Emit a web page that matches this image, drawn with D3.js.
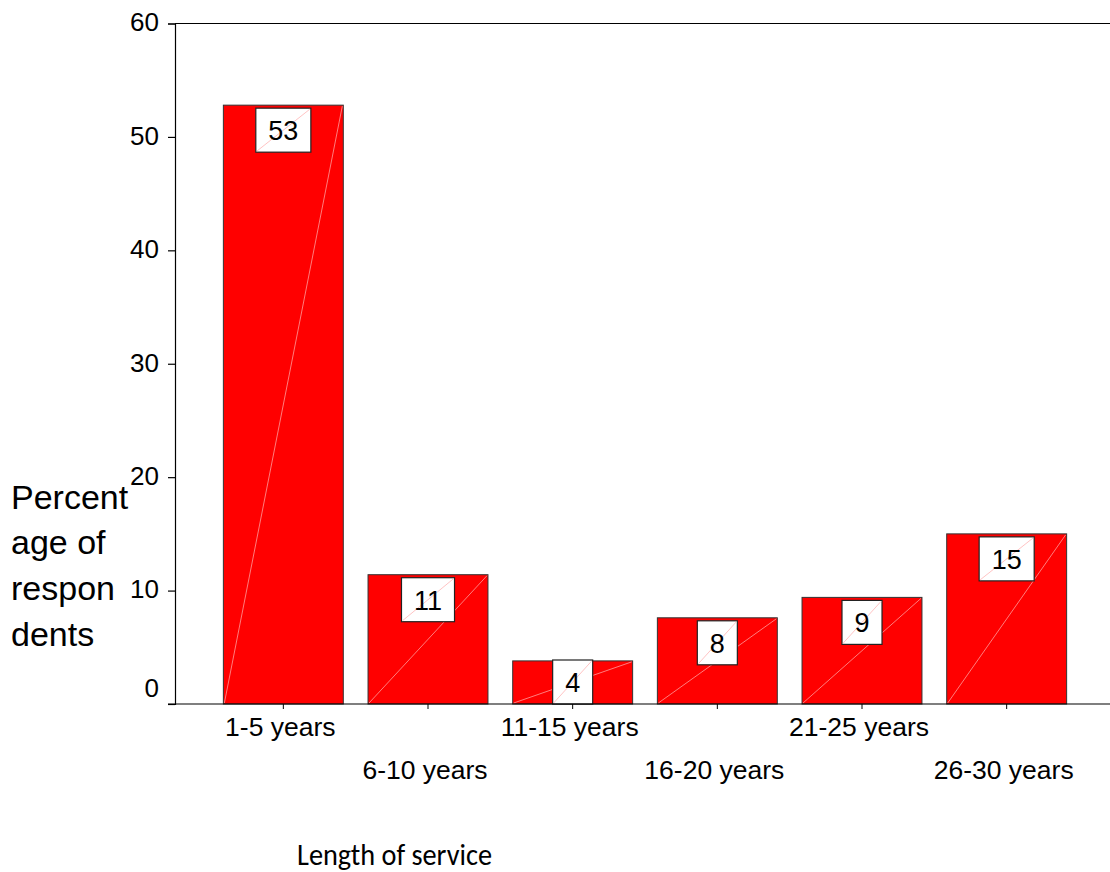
<!DOCTYPE html>
<html>
<head>
<meta charset="utf-8">
<script src="https://cdn.jsdelivr.net/npm/d3@7"></script>
<style>
  html, body { margin: 0; padding: 0; background: #fff; }
  svg { display: block; }
</style>
</head>
<body>
<svg id="chart" width="1110" height="872"></svg>
<script>
const categories = ["1-5 years", "6-10 years", "11-15 years", "16-20 years", "21-25 years", "26-30 years"];
const values = [52.8, 11.4, 3.8, 7.6, 9.4, 15.0];
const valueLabels = ["53", "11", "4", "8", "9", "15"];
const yTicks = [0, 10, 20, 30, 40, 50, 60];
const yTitleLines = ["Percent", "age of", "respon", "dents"];
const xTitle = "Length of service";

const svg = d3.select("#chart");
const W = 1110;
const FONT = "Arial, 'Liberation Sans', Helvetica, sans-serif";

const x0 = 175, y0 = 704, yTop = 23.5;
const y = d3.scaleLinear().domain([0, 60]).range([y0, yTop]);
const x = d3.scaleBand().domain(categories).range([211, 1079]).paddingInner(0.171).paddingOuter(0.0855);

// Bars
const bars = svg.append("g");
categories.forEach((c, i) => {
  const bx = x(c), bw = x.bandwidth(), by = y(values[i]);
  bars.append("rect")
    .attr("x", bx).attr("y", by).attr("width", bw).attr("height", y0 - by)
    .attr("fill", "#ff0000").attr("stroke", "#333").attr("stroke-width", 1);
  bars.append("line")
    .attr("x1", bx + 1).attr("y1", y0 - 1).attr("x2", bx + bw - 1).attr("y2", by + 1)
    .attr("stroke", "#ff9c9c").attr("stroke-width", 0.8);
});

// Value label boxes
const lab = svg.append("g");
categories.forEach((c, i) => {
  const cx = x(c) + x.bandwidth() / 2;
  const by = y(values[i]);
  const t = lab.append("text")
    .attr("font-family", FONT).attr("font-size", 27).attr("fill", "#000")
    .attr("text-anchor", "middle").text(valueLabels[i]);
  const tw = t.node().getComputedTextLength();
  const bw = tw + 25, bh = 44;
  const top = Math.min(by + 3, y0 - bh);
  const bx = cx - bw / 2;
  lab.insert("rect", () => t.node())
    .attr("x", bx).attr("y", top).attr("width", bw).attr("height", bh)
    .attr("fill", "#fff").attr("stroke", "#222").attr("stroke-width", 1.2);
  lab.insert("line", () => t.node())
    .attr("x1", bx + 1).attr("y1", top + bh - 1).attr("x2", bx + bw - 1).attr("y2", top + 1)
    .attr("stroke", "#ffb4b4").attr("stroke-width", 0.8);
  t.attr("x", cx).attr("y", top + bh / 2 + 10);
});

// Y axis
const yAxis = svg.append("g").attr("transform", `translate(${x0},0)`)
  .call(d3.axisLeft(y).tickValues(yTicks).tickSize(7).tickPadding(9).tickFormat(d3.format("d")));
yAxis.select(".domain").attr("stroke", "#000").attr("stroke-width", 1.2);
yAxis.selectAll(".tick line").attr("stroke", "#000").attr("stroke-width", 1.2);
yAxis.selectAll(".tick text")
  .attr("font-family", FONT).attr("font-size", 26).attr("fill", "#000")
  .attr("dy", d => d === 0 ? "-0.3em" : "0.28em");

// Top frame line
svg.append("line").attr("x1", x0).attr("x2", W).attr("y1", y(60)).attr("y2", y(60))
  .attr("stroke", "#000").attr("stroke-width", 1.2);

// X axis
const xAxis = svg.append("g").attr("transform", `translate(0,${y0})`)
  .call(d3.axisBottom(x).tickSize(5).tickFormat(""));
xAxis.select(".domain").remove();
xAxis.selectAll(".tick line").attr("stroke", "#000");
svg.append("line").attr("x1", 168).attr("x2", W).attr("y1", y0).attr("y2", y0)
  .attr("stroke", "#000").attr("stroke-width", 1.2);

// X tick labels (staggered)
categories.forEach((c, i) => {
  svg.append("text")
    .attr("x", x(c) + x.bandwidth() / 2 - 3)
    .attr("y", i % 2 === 0 ? 736 : 779)
    .attr("text-anchor", "middle")
    .attr("font-family", FONT).attr("font-size", 26.5).attr("fill", "#000")
    .text(c);
});

// Y title
const yt = svg.append("text").attr("font-family", FONT).attr("font-size", 34).attr("fill", "#000");
const baselines = [509, 554, 600, 646];
yTitleLines.forEach((l, i) => {
  yt.append("tspan").attr("x", 11).attr("y", baselines[i]).text(l);
});

// X title
svg.append("text")
  .attr("x", 297).attr("y", 865)
  .attr("font-family", "Carlito, Calibri, Lato, 'Open Sans', sans-serif")
  .attr("font-size", 30).attr("fill", "#000")
  .attr("textLength", 195).attr("lengthAdjust", "spacingAndGlyphs")
  .text(xTitle);
</script>
</body>
</html>
